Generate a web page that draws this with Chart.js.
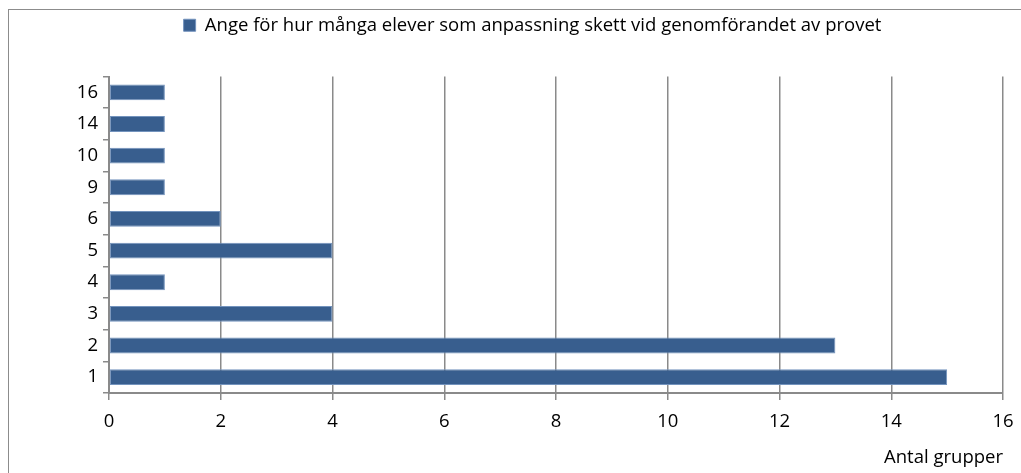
<!DOCTYPE html>
<html>
<head>
<meta charset="utf-8">
<script src="https://cdn.jsdelivr.net/npm/chart.js@4/dist/chart.umd.min.js"></script>
<style>
  html, body { margin: 0; padding: 0; background: #fff; overflow: hidden; }
  #wrap { position: relative; width: 1021px; height: 473px; }
  #frame { position: absolute; left: 8px; top: 9px; width: 1100px; height: 600px; border: 1px solid #8c8c8c; }
  #c { position: absolute; left: 0; top: 0; }
</style>
</head>
<body>
<div id="wrap">
  <div id="frame"></div>
  <canvas id="c" width="1021" height="473"></canvas>
</div>
<script>
// --- Data ---
const categories = ['1', '2', '3', '4', '5', '6', '9', '10', '14', '16'];
const values = [15, 13, 4, 1, 4, 2, 1, 1, 1, 1];
const seriesLabel = 'Ange för hur många elever som anpassning skett vid genomförandet av provet';
const xTitle = 'Antal grupper';

const FONT = '"Open Sans", "Liberation Sans", sans-serif';
const FSIZE = 18.5;
const AXIS_GRAY = '#8a8a8a';

// extra space under legend
const legendGap = {
    id: 'legendGap',
    beforeInit: function (chart) {
        const origFit = chart.legend.fit;
        chart.legend.fit = function () {
            origFit.bind(chart.legend)();
            this.height += 32;
        };
    }
};

new Chart(document.getElementById('c'), {
    type: 'bar',
    data: {
        labels: categories,
        datasets: [{
            label: seriesLabel,
            data: values,
            backgroundColor: '#385E8E',
            borderColor: '#7393BD',
            borderWidth: 1,
            borderSkipped: false,
            categoryPercentage: 1.0,
            barPercentage: 0.5
        }]
    },
    options: {
        indexAxis: 'y',
        responsive: false,
        animation: false,
        layout: { padding: { left: 62, right: 18, top: 6, bottom: 0 } },
        plugins: {
            legend: {
                position: 'top',
                labels: {
                    boxWidth: 12,
                    boxHeight: 12,
                    padding: 10,
                    color: '#000',
                    font: { family: FONT, size: FSIZE }
                }
            },
            tooltip: { enabled: false }
        },
        scales: {
            x: {
                min: 0,
                max: 16,
                ticks: {
                    stepSize: 2,
                    color: '#000',
                    padding: 11,
                    font: { family: FONT, size: FSIZE }
                },
                grid: { color: AXIS_GRAY, lineWidth: 1.5, tickLength: 7 },
                border: { color: AXIS_GRAY, width: 2 },
                title: {
                    display: true,
                    text: xTitle,
                    align: 'end',
                    color: '#000',
                    padding: { top: 6, bottom: 4 },
                    font: { family: FONT, size: FSIZE }
                },
                afterFit: function (scale) {
                    scale.height = 80;
                    scale.paddingLeft = 0;
                    scale.paddingRight = 0;
                }
            },
            y: {
                reverse: true,
                ticks: {
                    color: '#000',
                    padding: 5,
                    font: { family: FONT, size: FSIZE }
                },
                grid: { drawOnChartArea: false, color: AXIS_GRAY, lineWidth: 1.5, tickLength: 6, offset: true },
                border: { color: AXIS_GRAY, width: 2 },
                afterFit: function (scale) {
                    scale.width = 47;
                    scale.paddingTop = 0;
                    scale.paddingBottom = 0;
                }
            }
        }
    },
    plugins: [legendGap]
});
</script>
</body>
</html>
